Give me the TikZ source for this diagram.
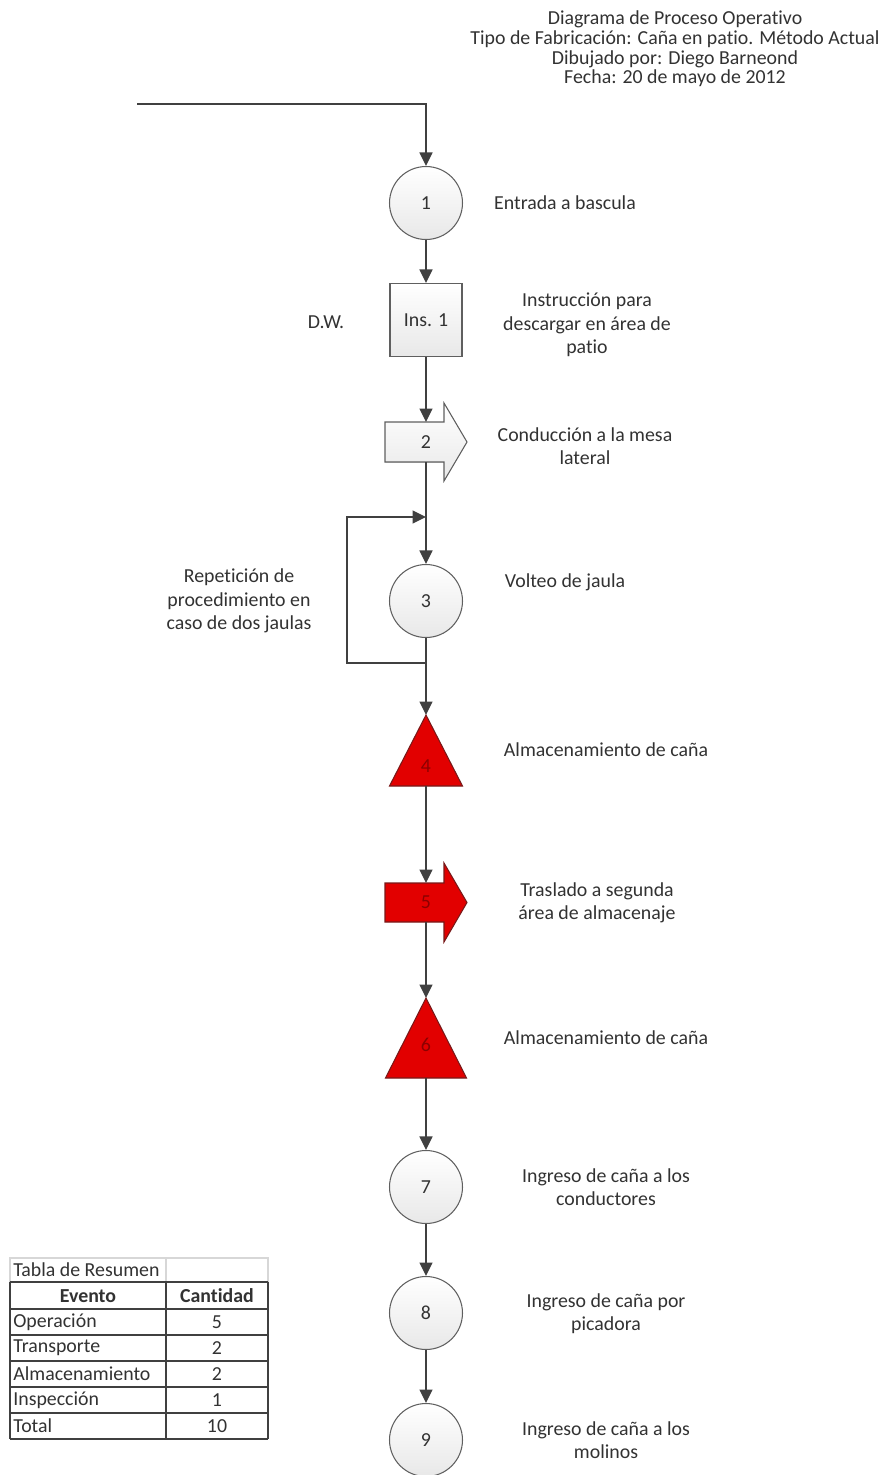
\documentclass[tikz,border=0pt]{standalone}
\usepackage{fontspec}
\setmainfont{Carlito}[Ligatures=NoCommon]
\usetikzlibrary{arrows.meta}
\definecolor{linegray}{RGB}{64,64,64}
\definecolor{edgegray}{RGB}{95,95,95}
\definecolor{txtgray}{RGB}{50,50,50}
\definecolor{redfill}{RGB}{226,0,0}
\definecolor{rededge}{RGB}{120,25,25}
\definecolor{numred}{RGB}{140,0,0}
\definecolor{gridgray}{RGB}{215,215,215}
\newcommand{\lblfont}{\fontsize{11.3}{13.3}\selectfont}
\tikzset{
  flow/.style={draw=linegray, line width=0.8pt, -{Triangle[length=0.27cm,width=0.26cm]}},
  oper/.style={circle, draw=edgegray, line width=0.6pt, top color=white, bottom color=black!9,
    minimum size=1.46cm, inner sep=0pt, text=txtgray, font=\lblfont},
  insp/.style={rectangle, draw=edgegray, line width=0.6pt, top color=white, bottom color=black!9,
    minimum width=1.44cm, minimum height=1.46cm, inner sep=0pt, text=txtgray, font=\lblfont},
  transp/.style={draw=edgegray, line width=0.6pt, top color=white, bottom color=black!9},
  redshape/.style={draw=rededge, line width=0.6pt, fill=redfill},
  num/.style={text=txtgray, font=\lblfont, inner sep=0pt},
  rednum/.style={text=numred, font=\lblfont, inner sep=0pt},
  lbl/.style={align=center, text=txtgray, font=\lblfont, inner sep=0pt},
  cell/.style={text=txtgray, font=\lblfont, inner sep=0pt},
  tabline/.style={draw=linegray, line width=0.9pt},
}
\begin{document}
\begin{tikzpicture}[x=0.02cm, y=-0.02cm]
\useasboundingbox (0,0) rectangle (888,1475);

% title
\node[lbl, font=\fontsize{11.3}{11.2}\selectfont] (title) at (675,49)
  {Diagrama de Proceso Operativo\\Tipo de Fabricación: Caña en patio. Método Actual\\Dibujado por: Diego Barneond\\Fecha: 20 de mayo de 2012};

% symbols
\node[oper] (op1) at (426,203) {1};
\node[insp] (ins1) at (426,320) {Ins. 1};
\filldraw[transp] (385,422) -- (444,422) -- (444,403) -- (467,442) -- (444,481) -- (444,462) -- (385,462) -- cycle;
\node[num] (t2) at (426,442) {2};
\node[oper] (op3) at (426,601) {3};
\filldraw[redshape] (426,715) -- (462.5,786) -- (389.5,786) -- cycle;
\node[rednum] (st4) at (426,766) {4};
\filldraw[redshape] (385,883) -- (444,883) -- (444,863) -- (467,902.5) -- (444,942) -- (444,922) -- (385,922) -- cycle;
\node[rednum] (t5) at (426,902) {5};
\filldraw[redshape] (426,998) -- (466.5,1078) -- (385.5,1078) -- cycle;
\node[rednum] (st6) at (426,1045) {6};
\node[oper] (op7) at (426,1187) {7};
\node[oper] (op8) at (426,1313) {8};
\node[oper] (op9) at (426,1440) {9};

% ends of the connectors
\coordinate (start) at (137,104);
\coordinate (t2in) at (426,422);
\coordinate (t2out) at (426,462);
\coordinate (st4in) at (426,715);
\coordinate (st4out) at (426,786);
\coordinate (t5in) at (426,883);
\coordinate (t5out) at (426,922);
\coordinate (st6in) at (426,998);
\coordinate (st6out) at (426,1078);
\coordinate (rep) at (426,663);
\coordinate (back) at (426,517);

\draw[flow] (start) -| (op1);
\draw[flow] (op1) -- (ins1);
\draw[flow] (ins1) -- (t2in);
\draw[flow] (t2out) -- (op3);
\draw[flow] (op3) -- (st4in);
\draw[flow] (st4out) -- (t5in);
\draw[flow] (t5out) -- (st6in);
\draw[flow] (st6out) -- (op7);
\draw[flow] (op7) -- (op8);
\draw[flow] (op8) -- (op9);
\draw[flow] (rep) -- ++(-79,0) |- (back);

% descriptions
\node[lbl] (l1) at (565,203) {Entrada a bascula};
\node[lbl] (dw) at (326,322) {D.W.};
\node[lbl] (l2) at (587,325) {Instrucción para\\descargar en área de\\patio};
\node[lbl] (l3) at (585,446) {Conducción a la mesa\\lateral};
\node[lbl] (l4) at (565,582) {Volteo de jaula};
\node[lbl] (lrep) at (239,601) {Repetición de\\procedimiento en\\caso de dos jaulas};
\node[lbl] (l5) at (606,750) {Almacenamiento de caña};
\node[lbl] (l6) at (597,903) {Traslado a segunda\\área de almacenaje};
\node[lbl] (l7) at (606,1038) {Almacenamiento de caña};
\node[lbl] (l8) at (606,1187) {Ingreso de caña a los\\conductores};
\node[lbl] (l9) at (606,1314) {Ingreso de caña por\\picadora};
\node[lbl] (l10) at (606,1440) {Ingreso de caña a los\\molinos};

% summary table
\draw[gridgray, line width=0.6pt] (10,1258) rectangle (268,1282) (166,1258) -- (166,1282);
\node[cell, anchor=west] (tab) at (13,1270) {Tabla de Resumen};
\foreach \y in {1282,1309,1335,1361,1387,1413,1439}
  \draw[tabline] (10,\y) -- (268,\y);
\foreach \x in {10,166,268}
  \draw[tabline] (\x,1282) -- (\x,1439);
\node[cell, font=\lblfont\bfseries] (hev) at (88,1296) {Evento};
\node[cell, font=\lblfont\bfseries] (hcant) at (217,1296) {Cantidad};
\foreach \y/\ev/\n [count=\k] in {1322/Operación/5, 1348/Transporte/2, 1374/Almacenamiento/2, 1400/Inspección/1, 1426/Total/10} {
  \node[cell, anchor=west] (ev\k) at (13,\y) {\ev};
  \node[cell] (n\k) at (217,\y) {\n};
}
\end{tikzpicture}
\end{document}
